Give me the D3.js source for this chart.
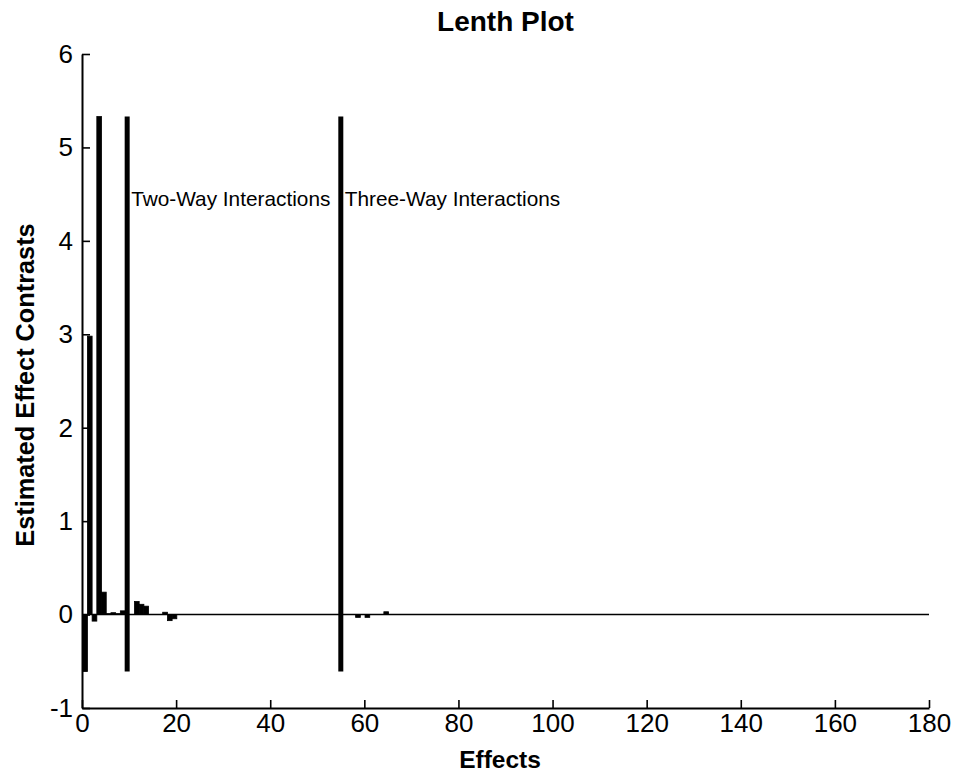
<!DOCTYPE html>
<html>
<head>
<meta charset="utf-8">
<script src="https://cdn.jsdelivr.net/npm/d3@7/dist/d3.min.js"></script>
<style>
  html, body { margin: 0; padding: 0; background: #fff; }
  svg { display: block; font-family: "Liberation Sans", Arial, sans-serif; }
</style>
</head>
<body>
<svg id="chart" width="955" height="776"></svg>
<script>
// Effect index (bar k spans k-1..k) and its estimated contrast; effects not listed are ~0
const effectIds = [1, 2, 3, 4, 5, 6, 7, 8, 9, 12, 13, 14, 18, 19, 20, 59, 61, 65];
const contrasts = [-0.61, 2.98, -0.07, 5.33, 0.24, 0.01, 0.02, 0.01, 0.04, 0.14, 0.11, 0.09, 0.025, -0.065, -0.045, -0.03, -0.03, 0.03];

// Boundaries between effect groups and their labels
const groupBreaks = [9.6, 55.0];
const groupLabels = ["Two-Way Interactions", "Three-Way Interactions"];
const groupLabelY = 4.45;

const xTicks = [0, 20, 40, 60, 80, 100, 120, 140, 160, 180];
const yTicks = [-1, 0, 1, 2, 3, 4, 5, 6];

const svg = d3.select("#chart");
const x = d3.scaleLinear().domain([0, 180]).range([82, 929]);
const y = d3.scaleLinear().domain([-1, 6]).range([708, 54]);

const bars = effectIds.map((k, i) => ({ k, v: contrasts[i] }));

// Bars
svg.append("g").selectAll("rect").data(bars).join("rect")
  .attr("x", d => x(d.k - 0.85))
  .attr("width", d => x(d.k) - x(d.k - 1))
  .attr("y", d => y(Math.max(0, d.v)))
  .attr("height", d => Math.abs(y(d.v) - y(0)))
  .attr("fill", "#000")
  .attr("stroke", "#000")
  .attr("stroke-width", 0.8);

// Baseline
svg.append("line")
  .attr("x1", x(0)).attr("x2", x(180))
  .attr("y1", y(0)).attr("y2", y(0))
  .attr("stroke", "#000").attr("stroke-width", 1.6);

// Group separators span the range of the contrasts
const vMin = d3.min(contrasts), vMax = d3.max(contrasts);
svg.append("g").selectAll("line").data(groupBreaks).join("line")
  .attr("x1", d => x(d)).attr("x2", d => x(d))
  .attr("y1", y(vMin)).attr("y2", y(vMax))
  .attr("stroke", "#000").attr("stroke-width", 5);

svg.append("g").selectAll("text").data(groupBreaks).join("text")
  .attr("x", d => x(d) + 4)
  .attr("y", y(groupLabelY))
  .attr("dominant-baseline", "central")
  .attr("font-size", 20.8)
  .attr("fill", "#000")
  .text((d, i) => groupLabels[i]);

// Axes (ticks point inward); plain hyphen for negatives
const fmt = d => String(d);
const xAxis = d3.axisBottom(x).tickValues(xTicks).tickFormat(fmt)
  .tickSizeInner(-8).tickSizeOuter(0).tickPadding(6);
const gx = svg.append("g").attr("transform", `translate(0,${y(-1)})`).call(xAxis);

const yAxis = d3.axisLeft(y).tickValues(yTicks).tickFormat(fmt)
  .tickSizeInner(-8).tickSizeOuter(0).tickPadding(9);
const gy = svg.append("g").attr("transform", `translate(${x(0)},0)`).call(yAxis);

[gx, gy].forEach(g => {
  g.select(".domain").attr("stroke", "#000").attr("stroke-width", 2);
  g.selectAll(".tick line").attr("stroke", "#000").attr("stroke-width", 1.6);
  g.selectAll(".tick text").attr("font-size", 26).attr("fill", "#000")
    .attr("font-family", "Liberation Sans, Arial, sans-serif");
});

// Titles
svg.append("text")
  .attr("x", (x(0) + x(180)) / 2).attr("y", 31)
  .attr("text-anchor", "middle")
  .attr("font-size", 28).attr("font-weight", "bold")
  .text("Lenth Plot");

svg.append("text")
  .attr("x", 500).attr("y", 768)
  .attr("text-anchor", "middle")
  .attr("font-size", 24.5).attr("font-weight", "bold")
  .text("Effects");

svg.append("text")
  .attr("transform", `translate(34,${(y(-1) + y(6)) / 2 + 4}) rotate(-90)`)
  .attr("text-anchor", "middle")
  .attr("font-size", 25.3).attr("font-weight", "bold")
  .text("Estimated Effect Contrasts");
</script>
</body>
</html>
